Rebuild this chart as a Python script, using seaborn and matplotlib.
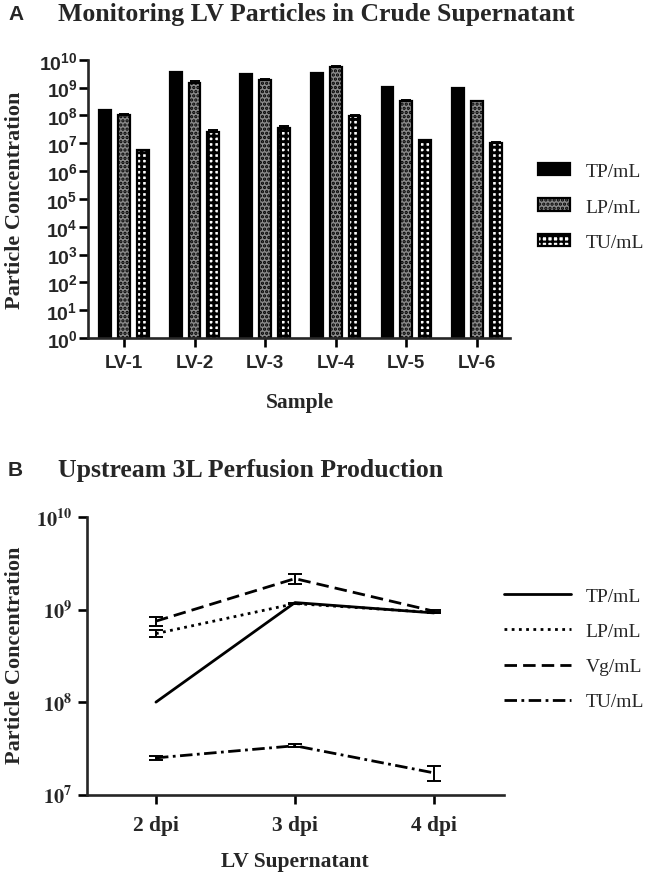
import numpy as np
import pandas as pd
import matplotlib
matplotlib.use("Agg")
import matplotlib.pyplot as plt
import seaborn as sns
from matplotlib.ticker import FixedLocator, NullLocator

# ---------------- data ----------------
samples = ["LV-1", "LV-2", "LV-3", "LV-4", "LV-5", "LV-6"]
measures_a = ["TP/mL", "LP/mL", "TU/mL"]
tp_a = [1.53e8, 3.5e9, 3.05e9, 3.4e9, 1.06e9, 0.98e9]
lp_a = [1.0e8, 1.4e9, 1.85e9, 5.6e9, 3.3e8, 3.15e8]
tu_a = [5.5e6, 2.6e7, 3.6e7, 9.3e7, 1.26e7, 1.05e7]
tp_a_err = [0, 0, 0, 0, 0, 0]
lp_a_err = [0.1e8, 0.25e9, 0.1e9, 0.2e9, 0.15e8, 0.15e8]
tu_a_err = [0.3e6, 0.4e7, 0.7e7, 0.9e7, 0.08e7, 0.08e7]

days = ["2 dpi", "3 dpi", "4 dpi"]
measures_b = ["TP/mL", "LP/mL", "Vg/mL", "TU/mL"]
tp_b = [1.0e8, 1.19e9, 0.92e9]
lp_b = [5.5e8, 1.16e9, 0.93e9]
vg_b = [7.5e8, 2.16e9, 0.96e9]
tu_b = [2.5e7, 3.38e7, 1.72e7]
tp_b_err = [0, 0, 0]
lp_b_err = [0.045e9, 0.02e9, 0.02e9]
vg_b_err = [0.08e9, 0.25e9, 0.04e9]
tu_b_err = [0.15e7, 0.12e7, 0.3e7]

# ---------------- style ----------------
sns.set_style("ticks")
plt.rcParams["font.family"] = ["Liberation Serif", "DejaVu Serif"]
plt.rcParams["mathtext.fontset"] = "custom"
plt.rcParams["mathtext.bf"] = "Liberation Sans:bold"
plt.rcParams["mathtext.rm"] = "Liberation Sans:bold"
plt.rcParams["hatch.linewidth"] = 1.6
plt.rcParams["hatch.color"] = "black"

W, H = 650, 879
fig = plt.figure(figsize=(W / 100, H / 100), dpi=100)


def px_axes(l, t, r, b):
    return fig.add_axes([l / W, 1 - b / H, (r - l) / W, (b - t) / H])


axA = px_axes(88, 60.7, 510, 339)
axB = px_axes(87, 518, 504, 795.7)

# ---------------- panel A ----------------
dfa = pd.DataFrame({
    "Sample": samples * 3,
    "Measure": [measures_a[0]] * 6 + [measures_a[1]] * 6 + [measures_a[2]] * 6,
    "Value": tp_a + lp_a + tu_a,
})
sns.barplot(data=dfa, x="Sample", y="Value", hue="Measure", ax=axA,
            palette=["black", "#8a8a8a", "white"], width=0.8, gap=0.37,
            edgecolor="black", linewidth=1.6, errorbar=None,
            saturation=1)
axA.set_yscale("log")
hatches = [None, "....", "+++"]
hatch_lw = [1.6, 1.6, 2.1]
errs_a = [tp_a_err, lp_a_err, tu_a_err]
for cont, hatch, hlw, errs in zip(axA.containers, hatches, hatch_lw, errs_a):
    xs, ys, es = [], [], []
    for p, e in zip(cont.patches, errs):
        if hatch:
            p.set_hatch(hatch)
            if hasattr(p, "set_hatch_linewidth"):
                p.set_hatch_linewidth(hlw)
        if e > 0:
            xs.append(p.get_x() + p.get_width() / 2)
            ys.append(p.get_y() + p.get_height())
            es.append(e)
    if xs:
        axA.errorbar(xs, ys, yerr=[np.zeros(len(es)), es], fmt="none",
                     ecolor="black", elinewidth=1.4, capsize=3.5, capthick=1.4)

axA.set_ylim(1, 1e10)
axA.set_xlim(-0.51, 5.47)
axA.yaxis.set_major_locator(FixedLocator([10.0 ** k for k in range(11)]))
axA.yaxis.set_minor_locator(NullLocator())
axA.set_yticklabels([r"$\mathbf{10^{%d}}$" % k for k in range(11)],
                    fontsize=14)
axA.set_xticks(range(len(samples)))
axA.set_xticklabels(samples, fontsize=13.5, fontweight="bold",
                    family="Liberation Sans")
if axA.legend_ is not None:
    axA.legend_.remove()
legA = axA.legend(handles=list(axA.containers), labels=measures_a,
                  loc="center left", bbox_to_anchor=(530 / W, 1 - 208 / H),
                  bbox_transform=fig.transFigure, frameon=False, fontsize=14,
                  handlelength=1.65, handleheight=0.6, labelspacing=0.95,
                  handletextpad=0.8, borderaxespad=0)
axA.set_ylabel("Particle Concentration", fontsize=16, fontweight="bold")
axA.set_xlabel("Sample", fontsize=15.5, fontweight="bold")
axA.yaxis.set_label_coords(-0.173, 0.5)
axA.yaxis.label.set(va="center", ha="center", rotation_mode="anchor")
axA.xaxis.set_label_coords(0.502, -0.23)
axA.xaxis.label.set(va="center")

# ---------------- panel B ----------------
dfb = pd.DataFrame({
    "Day": days * 4,
    "Measure": sum([[m] * 3 for m in measures_b], []),
    "Value": tp_b + lp_b + vg_b + tu_b,
})
sns.lineplot(data=dfb, x="Day", y="Value", style="Measure", ax=axB,
             color="black", linewidth=2,
             dashes=["", (1, 1.6), (4.5, 2.2), (4.5, 1.6, 1, 1.6)],
             errorbar=None, legend=True)
axB.set_yscale("log")
errs_b = [tp_b_err, lp_b_err, vg_b_err, tu_b_err]
vals_b = [tp_b, lp_b, vg_b, tu_b]
for v, e in zip(vals_b, errs_b):
    if any(x > 0 for x in e):
        axB.errorbar(range(len(days)), v, yerr=e, fmt="none", ecolor="black",
                     elinewidth=1.4, capsize=5, capthick=1.4)
axB.set_ylim(1e7, 1e10)
axB.set_xlim(-0.496, 2.504)
axB.yaxis.set_major_locator(FixedLocator([10.0 ** k for k in range(7, 11)]))
axB.yaxis.set_minor_locator(NullLocator())
axB.set_yticklabels([r"$\mathbf{10^{%d}}$" % k for k in range(7, 11)],
                    fontsize=14.5, math_fontfamily="stix")
axB.set_xticks(range(len(days)))
axB.set_xticklabels(days, fontsize=15.5, fontweight="bold")
hb, lb = axB.get_legend_handles_labels()
axB.legend(handles=hb, labels=lb, loc="center left",
           bbox_to_anchor=(496 / W, 1 - 650 / H),
           bbox_transform=fig.transFigure, frameon=False, fontsize=14,
           handlelength=3.45, labelspacing=0.9, handletextpad=0.75,
           borderaxespad=0)
axB.set_ylabel("Particle Concentration", fontsize=16, fontweight="bold")
axB.set_xlabel("LV Supernatant", fontsize=15.5, fontweight="bold")
axB.yaxis.set_label_coords(-0.173, 0.507)
axB.yaxis.label.set(va="center", ha="center", rotation_mode="anchor")
axB.xaxis.set_label_coords(0.499, -0.239)
axB.xaxis.label.set(va="center")

# ---------------- common axis styling ----------------
for ax in (axA, axB):
    sns.despine(ax=ax)
    for s in ("left", "bottom"):
        ax.spines[s].set_linewidth(1.9)
    ax.tick_params(axis="both", which="major", length=6.5, width=1.9,
                   color="black")
axA.tick_params(axis="y", pad=1)
axA.tick_params(axis="x", pad=5)
axB.tick_params(axis="y", pad=4)
axB.tick_params(axis="x", pad=8)

# ---------------- titles ----------------
fig.text(8 / W, 1 - 15 / H, "A", fontsize=15, fontweight="bold",
         family="Liberation Sans", va="center", ha="left")
fig.text(58 / W, 1 - 15 / H, "Monitoring LV Particles in Crude Supernatant",
         fontsize=18.5, fontweight="bold", va="center", ha="left")
fig.text(8 / W, 1 - 471 / H, "B", fontsize=15, fontweight="bold",
         family="Liberation Sans", va="center", ha="left")
fig.text(58 / W, 1 - 471 / H, "Upstream 3L Perfusion Production",
         fontsize=18.5, fontweight="bold", va="center", ha="left")

fig.savefig("out.png", dpi=100, facecolor="white")
